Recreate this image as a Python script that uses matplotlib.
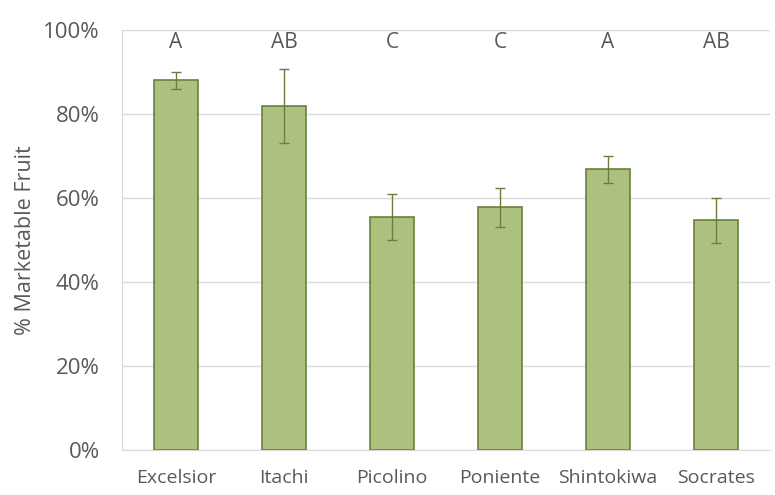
import matplotlib.pyplot as plt
from matplotlib.ticker import PercentFormatter

plt.rcParams['font.family'] = ['Open Sans', 'DejaVu Sans']

varieties = ['Excelsior', 'Itachi', 'Picolino', 'Poniente', 'Shintokiwa', 'Socrates']
marketable = [88.0, 81.9, 55.4, 57.8, 66.8, 54.7]
std_err = [2.1, 8.9, 5.5, 4.7, 3.2, 5.4]
letters = ['A', 'AB', 'C', 'C', 'A', 'AB']

fig = plt.figure(figsize=(7.75, 4.95), dpi=100)
ax = fig.add_axes([122 / 775, 45 / 495, 648 / 775, 420 / 495])

x = range(len(varieties))
ax.bar(x, marketable, width=0.4, color='#adc17e', edgecolor='#6a7f3c', linewidth=1.2,
       zorder=3, yerr=std_err,
       error_kw=dict(ecolor='#6a7f3c', elinewidth=1, capsize=3.5, capthick=1, zorder=4))

for i, lab in enumerate(letters):
    ax.text(i, 97, lab, ha='center', va='center', fontsize=15, color='#595959')

ax.set_xlim(-0.5, len(varieties) - 0.5)
ax.set_ylim(0, 100)
ax.set_yticks(range(0, 101, 20))
ax.yaxis.set_major_formatter(PercentFormatter(decimals=0))
ax.set_xticks(list(x))
ax.set_xticklabels(varieties)
ax.tick_params(axis='both', length=0, labelcolor='#595959')
ax.tick_params(axis='x', pad=14, labelsize=14)
ax.tick_params(axis='y', pad=16, labelsize=16)

ax.grid(axis='y', color='#d9d9d9', linewidth=1, zorder=0)
for s in ['top', 'right']:
    ax.spines[s].set_visible(False)
ax.spines['left'].set_color('#d9d9d9')
ax.spines['bottom'].set_color('#d9d9d9')

ax.set_ylabel('% Marketable Fruit', fontsize=15.5, color='#595959', labelpad=5)

fig.savefig('out.png', dpi=100)
